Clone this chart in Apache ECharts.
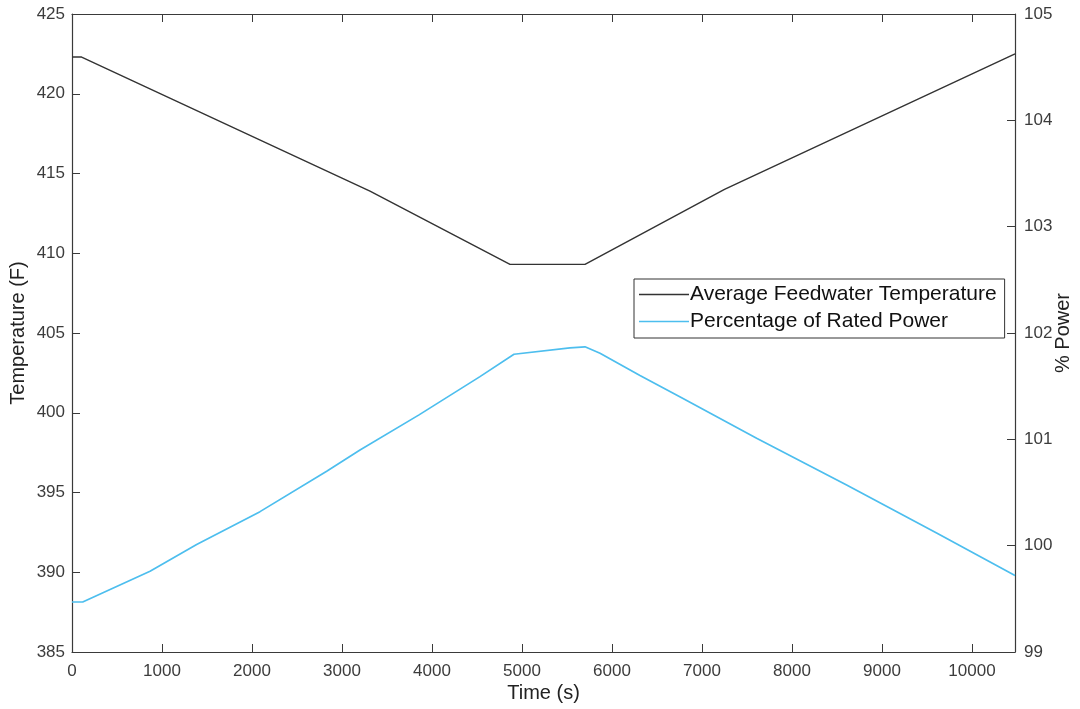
<!DOCTYPE html>
<html>
<head>
<meta charset="utf-8">
<script src="https://cdn.jsdelivr.net/npm/echarts@6/dist/echarts.min.js"></script>
<style>html,body{margin:0;padding:0;background:#fff}#c{width:1080px;height:709px}</style>
</head>
<body>
<div id="c"></div>
<script>
// Data
const tempTime = [0, 107, 3311, 4867, 5700, 7250, 10478];
const tempValues = [422.3, 422.3, 413.9, 409.3, 409.3, 414.0, 422.5];

const powerTime = [0, 119, 867, 1385, 2089, 2830, 3200, 3856, 4533, 4911, 5533, 5700, 5867, 6311, 6774, 7607, 8607, 9607, 10478];
const powerValues = [99.47, 99.47, 99.76, 100.01, 100.32, 100.70, 100.90, 101.23, 101.59, 101.80, 101.86, 101.87, 101.81, 101.60, 101.39, 101.01, 100.57, 100.12, 99.72];

const xTicks = [0, 1000, 2000, 3000, 4000, 5000, 6000, 7000, 8000, 9000, 10000];
const leftTicks = [385, 390, 395, 400, 405, 410, 415, 420, 425];
const rightTicks = [99, 100, 101, 102, 103, 104, 105];

const pairs = (t, v) => t.map((x, i) => [x, v[i]]);

const axisColor = '#3a3a3a';
const FONT = 'Liberation Sans, Arial, sans-serif';
const labelStyle = { color: '#3c3c3c', fontSize: 17, fontFamily: FONT };
const nameStyle = { color: '#222', fontSize: 20, fontFamily: FONT };

const chart = echarts.init(document.getElementById('c'), null, { renderer: 'canvas' });
chart.setOption({
  animation: false,
  backgroundColor: '#fff',
  grid: { left: 72, right: 65, top: 14, bottom: 57, containLabel: false, outerBoundsMode: 'none' },
  legend: {
    orient: 'vertical',
    left: 634, top: 279,
    padding: [5, 8, 6, 5],
    itemGap: 6,
    itemWidth: 50,
    itemHeight: 1.5,
    icon: 'rect',
    borderColor: '#333', borderWidth: 1,
    backgroundColor: '#fff',
    textStyle: { color: '#111', fontSize: 21, fontFamily: FONT, padding: [0, 0, 0, -4] },
    data: ['Average Feedwater Temperature', 'Percentage of Rated Power']
  },
  xAxis: [{
    type: 'value', min: 0, max: 10478, interval: 1000,
    position: 'bottom',
    name: 'Time (s)', nameLocation: 'middle', nameGap: 31, nameMoveOverlap: false,
    nameTextStyle: nameStyle,
    axisLine: { onZero: false, lineStyle: { color: axisColor, width: 1.2 } },
    axisTick: { inside: true, length: 8, lineStyle: { color: axisColor } },
    axisLabel: Object.assign({ margin: 11, showMaxLabel: false, formatter: v => xTicks.includes(v) ? String(v) : '' }, labelStyle),
    splitLine: { show: false }
  }, {
    type: 'value', min: 0, max: 10478, interval: 1000,
    position: 'top',
    axisLine: { onZero: false, lineStyle: { color: axisColor, width: 1.2 } },
    axisTick: { inside: true, length: 8, lineStyle: { color: axisColor } },
    axisLabel: { show: false },
    splitLine: { show: false }
  }],
  yAxis: [{
    type: 'value', min: 385, max: 425, interval: 5,
    position: 'left',
    name: 'Temperature (F)', nameLocation: 'middle', nameGap: 44, nameRotate: 90, nameMoveOverlap: false,
    nameTextStyle: nameStyle,
    axisLine: { show: true, onZero: false, lineStyle: { color: axisColor, width: 1.2 } },
    axisTick: { show: true, inside: true, length: 8, lineStyle: { color: axisColor } },
    axisLabel: Object.assign({ margin: 7, formatter: v => leftTicks.includes(v) ? String(v) : '' }, labelStyle),
    splitLine: { show: false }
  }, {
    type: 'value', min: 99, max: 105, interval: 1,
    position: 'right',
    name: '% Power', nameLocation: 'middle', nameGap: 38, nameRotate: 90, nameMoveOverlap: false,
    nameTextStyle: nameStyle,
    axisLine: { show: true, onZero: false, lineStyle: { color: axisColor, width: 1.2 } },
    axisTick: { show: true, inside: true, length: 8, lineStyle: { color: axisColor } },
    axisLabel: Object.assign({ margin: 9, formatter: v => rightTicks.includes(v) ? String(v) : '' }, labelStyle),
    splitLine: { show: false }
  }],
  series: [{
    name: 'Average Feedwater Temperature',
    type: 'line', xAxisIndex: 0, yAxisIndex: 0,
    showSymbol: false, symbol: 'none',
    lineStyle: { color: '#333', width: 1.4 },
    itemStyle: { color: '#333' },
    data: pairs(tempTime, tempValues)
  }, {
    name: 'Percentage of Rated Power',
    type: 'line', xAxisIndex: 0, yAxisIndex: 1,
    showSymbol: false, symbol: 'none',
    lineStyle: { color: '#4DBEEE', width: 1.7 },
    itemStyle: { color: '#4DBEEE' },
    data: pairs(powerTime, powerValues)
  }]
});
</script>
</body>
</html>
